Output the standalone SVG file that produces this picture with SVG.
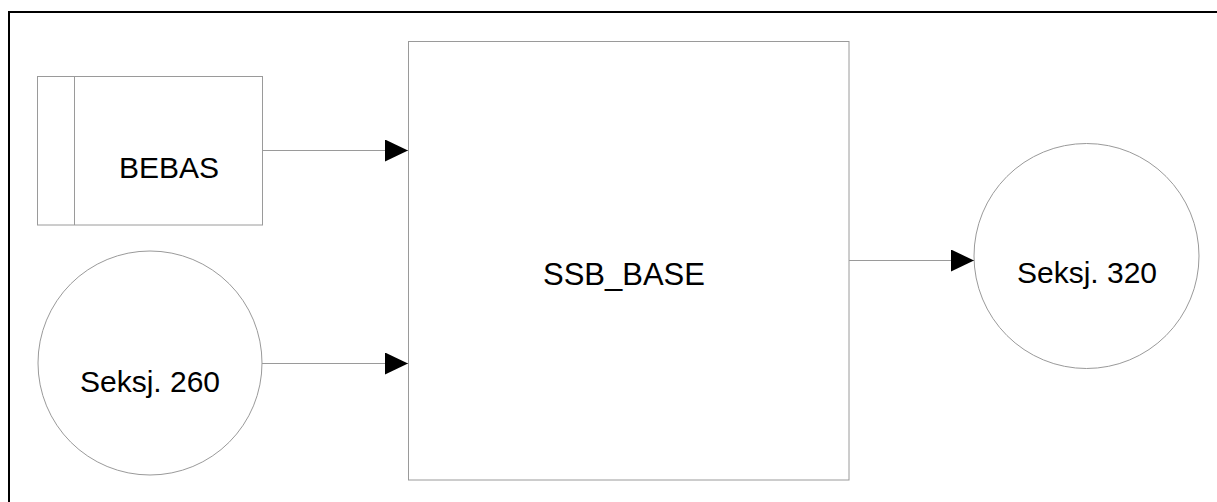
<svg xmlns="http://www.w3.org/2000/svg" width="1217" height="502" viewBox="0 0 1217 502">
  <style>
    .shape { fill: #ffffff; stroke: #9a9a9a; stroke-width: 1; }
    .conn { fill: none; stroke: #9a9a9a; stroke-width: 1; }
    .label { font-family: "Liberation Sans", Arial, sans-serif; font-size: 30px; fill: #000000; text-anchor: middle; }
    .frame { fill: none; stroke: #000000; stroke-width: 2; }
  </style>
  <defs>
    <marker id="arrow" markerUnits="userSpaceOnUse" markerWidth="23" markerHeight="22" refX="23" refY="11" orient="auto">
      <path d="M0,0 L23,11 L0,22 Z" fill="#000000"/>
    </marker>
  </defs>
  <rect width="1217" height="502" fill="#ffffff"/>
  <path class="frame" d="M9,520 L9,12 L1230,12"/>

  <g id="bebas">
    <rect class="shape" x="37.5" y="76.5" width="225" height="148.5"/>
    <line class="shape" x1="74.5" y1="76.5" x2="74.5" y2="225"/>
    <text class="label" x="169" y="178">BEBAS</text>
  </g>

  <g id="seksj260">
    <circle class="shape" cx="150" cy="363" r="112"/>
    <text class="label" x="150" y="392">Seksj. 260</text>
  </g>

  <g id="ssb_base">
    <rect class="shape" x="408.5" y="41.5" width="440.5" height="438.5"/>
    <text class="label" x="624" y="285" style="font-size:31px">SSB_BASE</text>
  </g>

  <g id="seksj320">
    <circle class="shape" cx="1086.5" cy="256" r="112.5"/>
    <text class="label" x="1087" y="283">Seksj. 320</text>
  </g>

  <g id="connectors">
    <line class="conn" x1="263" y1="150.5" x2="408" y2="150.5" marker-end="url(#arrow)"/>
    <line class="conn" x1="262" y1="363.5" x2="408" y2="363.5" marker-end="url(#arrow)"/>
    <line class="conn" x1="849" y1="260.5" x2="974" y2="260.5" marker-end="url(#arrow)"/>
  </g>
</svg>
